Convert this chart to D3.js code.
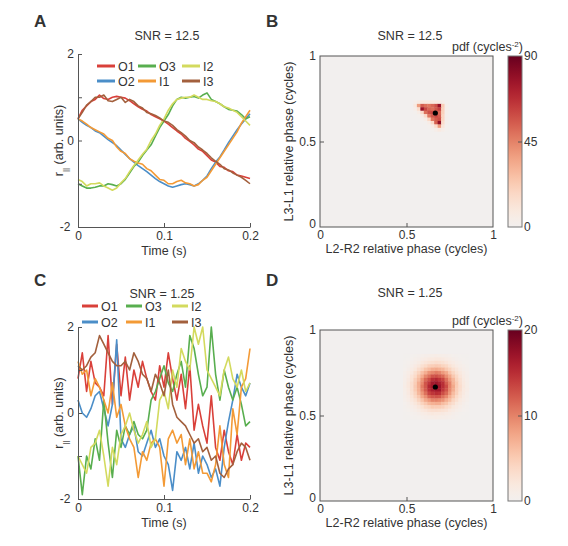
<!DOCTYPE html>
<html>
<head>
<meta charset="utf-8">
<script src="https://cdn.jsdelivr.net/npm/d3@7"></script>
<style>
  body { margin: 0; background: #fff; }
  svg text { font-family: "Liberation Sans", Arial, sans-serif; fill: #333; }
</style>
</head>
<body>
<div id="chart"></div>
<script>
// ---- data ----
const seriesNames = ["O1", "O2", "O3", "I1", "I2", "I3"];
const seriesColors = ["#d9403a", "#4b8ec8", "#58ae4f", "#f39a36", "#d3da5e", "#a3603d"];
const timeStep = 0.005; // 41 samples, 0 .. 0.2 s
const timeTicks = [0, 0.1, 0.2];
const rTicks = [-2, -1, 0, 1, 2];
const phaseTicks = [0, 0.5, 1];

// SNR = 12.5
const highSnr = [
  [0.5, 0.7, 0.8, 0.9, 0.95, 1.05, 0.97, 0.95, 1.0, 1.02, 1.0, 0.98, 0.92, 0.85, 0.78, 0.72, 0.68, 0.6, 0.55, 0.5, 0.45, 0.38, 0.3, 0.22, 0.15, 0.05, -0.02, -0.1, -0.2, -0.25, -0.35, -0.45, -0.5, -0.6, -0.62, -0.7, -0.72, -0.8, -0.82, -0.85, -0.88],
  [0.5, 0.42, 0.35, 0.3, 0.22, 0.18, 0.1, 0.02, -0.05, -0.12, -0.22, -0.32, -0.42, -0.5, -0.58, -0.65, -0.72, -0.8, -0.88, -0.95, -1.0, -1.05, -1.08, -1.05, -1.02, -1.0, -1.02, -1.05, -1.0, -0.92, -0.82, -0.65, -0.5, -0.38, -0.22, -0.05, 0.1, 0.25, 0.38, 0.5, 0.62],
  [-1.0, -1.05, -1.1, -1.1, -1.08, -1.05, -1.05, -1.0, -1.02, -1.05, -1.0, -0.9, -0.75, -0.6, -0.5, -0.35, -0.22, -0.1, 0.1, 0.3, 0.45, 0.6, 0.8, 0.95, 1.0, 0.98, 1.0, 1.02, 0.98, 1.05, 1.1, 0.95, 0.9, 0.85, 0.78, 0.72, 0.7, 0.68, 0.6, 0.5, 0.55],
  [0.5, 0.45, 0.38, 0.3, 0.25, 0.2, 0.15, 0.05, 0.0, -0.15, -0.25, -0.3, -0.42, -0.48, -0.52, -0.55, -0.65, -0.7, -0.8, -0.9, -0.92, -1.0, -1.0, -0.95, -0.92, -0.98, -1.0, -1.05, -1.02, -0.92, -0.85, -0.7, -0.55, -0.4, -0.25, -0.1, 0.05, 0.2, 0.4, 0.55, 0.7],
  [-0.9, -0.95, -1.05, -1.0, -1.0, -0.98, -1.05, -1.1, -1.15, -1.1, -0.98, -0.88, -0.72, -0.58, -0.45, -0.32, -0.2, 0.0, 0.15, 0.35, 0.5, 0.7, 0.85, 0.95, 0.98, 1.0, 1.0, 1.05, 1.0, 0.95, 0.95, 0.92, 0.9, 0.85, 0.78, 0.75, 0.7, 0.65, 0.55, 0.45, 0.35],
  [0.5, 0.65, 0.82, 0.9, 1.0, 1.0, 1.05, 0.92, 0.9, 0.95, 1.0, 0.88, 0.95, 0.9, 0.8, 0.75, 0.65, 0.62, 0.58, 0.52, 0.45, 0.42, 0.35, 0.25, 0.18, 0.1, 0.0, -0.05, -0.15, -0.22, -0.3, -0.4, -0.48, -0.55, -0.65, -0.68, -0.75, -0.8, -0.85, -0.92, -1.0]
];

// SNR = 1.25
const lowSnr = [
  [0.8, 1.4, 0.5, 1.2, 0.7, 0.6, 0.4, 1.8, 0.2, 1.6, 0.4, 1.3, 0.3, 1.0, 0.6, 1.2, 0.8, 0.5, 0.3, 1.1, 0.6, 1.4, 0.8, 0.3, 0.9, 0.1, 1.1, -0.4, 0.2, -0.3, -0.7, 0.4, -0.8, -1.1, -0.4, -0.9, -1.2, -0.5, -1.1, -0.7, -0.8],
  [0.3, 0.0, -0.1, 0.1, 0.4, 0.5, 0.1, -0.3, 0.2, 1.7, -0.6, -0.8, -0.5, -0.3, -0.9, -1.0, -0.7, -0.4, -0.8, -0.6, -1.0, -1.2, -1.8, -0.9, -1.1, -0.8, -1.3, -0.7, -1.4, -1.0, -1.2, -1.5, -1.3, -1.7, -0.8, -0.2, 0.3, 0.9, 0.6, 0.4, 0.7],
  [-1.0, -1.9, -1.0, -1.3, -0.6, -1.1, 0.3, -0.7, -1.5, -0.4, -0.8, -0.3, -0.5, -0.2, -0.5, -0.6, -0.4, 0.3, 0.5, 0.8, 1.1, 0.7, 0.5, 0.9, 1.2, 0.6, 1.8, 1.5, 0.9, 0.4, 0.6, 2.0, 0.9, 0.3, 1.0, 0.6, 0.3, 0.6, 0.2, -0.3, -0.2],
  [1.2, 0.9, 1.0, 0.4, 0.8, 0.6, 0.3, 0.0, 0.7, -0.1, 0.2, -0.3, -0.6, -0.8, -1.5, -0.9, -1.1, -0.7, -0.6, -0.8, -1.7, -0.6, -0.4, -0.7, -0.5, -1.2, -0.6, -1.3, -0.9, -1.4, -1.4, -1.6, -1.2, -0.3, -1.2, -1.5, 0.1, -0.5, 0.6, 0.8, 1.5],
  [-1.0, -1.2, -1.4, -0.8, -0.7, -0.4, -1.0, -1.7, -0.8, -1.2, -0.5, -0.3, 0.0, -0.4, -0.7, -0.5, -0.2, -0.8, -0.6, 0.3, 0.5, 0.1, 1.0, 0.6, 1.5, 1.2, 1.0, 2.0, 1.6, 2.0, 1.0, 0.8, 0.6, 0.4, 1.0, 1.3, 0.8, 0.6, 1.0, 0.5, 0.7],
  [1.1, 1.0, 1.1, 1.3, 1.4, 1.8, 1.6, 1.4, 1.2, 1.1, 1.1, 1.2, 1.0, 1.4, 1.2, 0.9, 0.8, 0.5, 0.9, 0.7, 0.4, 1.0, 0.2, -0.1, -0.2, -0.3, -0.5, -0.7, -0.6, -0.9, -0.8, -1.1, -1.0, -1.4, -1.5, -1.3, -1.2, -0.9, -0.7, -0.8, -1.1]
];

// phase histograms, 50 x 50 bins of 0.02 cycles; only the non-empty block is given
const binWidth = 0.02;
const heatHighStart = [27, 36];   // [first x bin, top y bin]
const heatHigh = [
  [3, 6, 8, 8, 8, 8, 8, 7, 4, 1],
  [8, 38, 55, 50, 48, 52, 58, 78, 22, 3],
  [4, 15, 78, 60, 52, 50, 56, 62, 20, 3],
  [1, 5, 16, 50, 58, 60, 55, 52, 20, 3],
  [0, 1, 5, 16, 48, 56, 60, 55, 18, 2],
  [0, 0, 1, 5, 18, 48, 55, 58, 18, 2],
  [0, 0, 0, 1, 5, 16, 54, 80, 15, 2],
  [0, 0, 0, 0, 1, 5, 15, 38, 10, 1],
  [0, 0, 0, 0, 0, 1, 4, 8, 4, 1]
];
const heatLowStart = [24, 42];
const heatLow = [
  [0.1, 0.1, 0.2, 0.3, 0.5, 0.6, 0.8, 0.9, 1.0, 1.1, 1.0, 0.9, 0.8, 0.6, 0.4, 0.3, 0.2, 0.1, 0.1],
  [0.1, 0.2, 0.4, 0.6, 0.8, 1.1, 1.4, 1.7, 1.8, 1.9, 1.9, 1.7, 1.4, 1.1, 0.8, 0.5, 0.3, 0.2, 0.1],
  [0.2, 0.4, 0.6, 0.9, 1.3, 1.9, 2.4, 2.8, 3.0, 3.3, 3.1, 2.9, 2.3, 1.8, 1.4, 0.9, 0.6, 0.3, 0.2],
  [0.3, 0.5, 0.9, 1.5, 2.1, 3.0, 3.6, 4.5, 4.8, 5.1, 4.9, 4.3, 3.8, 2.8, 2.0, 1.4, 0.9, 0.6, 0.3],
  [0.4, 0.8, 1.4, 2.0, 3.2, 4.1, 5.5, 6.3, 7.2, 7.5, 7.0, 6.5, 5.2, 4.3, 3.0, 2.2, 1.3, 0.8, 0.5],
  [0.6, 1.1, 1.8, 3.0, 4.3, 5.9, 7.2, 8.9, 9.6, 10.3, 9.8, 8.6, 7.5, 5.6, 4.1, 2.8, 1.9, 1.1, 0.6],
  [0.8, 1.4, 2.5, 3.6, 5.5, 7.3, 9.6, 11.0, 12.6, 12.9, 12.2, 11.4, 9.2, 7.5, 5.3, 3.8, 2.3, 1.4, 0.8],
  [0.9, 1.7, 2.7, 4.5, 6.2, 8.9, 11.4, 13.0, 14.9, 15.4, 14.5, 13.5, 11.0, 8.6, 6.6, 4.3, 2.9, 1.6, 0.9],
  [1.0, 1.9, 3.2, 4.8, 7.3, 9.5, 12.6, 14.4, 16.5, 17.0, 16.1, 14.9, 12.1, 9.9, 6.9, 5.0, 3.0, 1.8, 1.0],
  [1.1, 1.9, 3.1, 5.1, 7.2, 10.3, 12.5, 15.4, 16.6, 17.8, 17.0, 15.0, 13.1, 9.8, 7.6, 4.9, 3.3, 1.9, 1.0],
  [1.0, 1.8, 3.1, 5.0, 7.0, 9.8, 12.2, 14.9, 16.2, 16.7, 16.8, 14.4, 12.6, 9.5, 7.2, 4.7, 3.2, 1.8, 1.1],
  [0.9, 1.7, 2.9, 4.3, 6.5, 8.7, 11.0, 13.5, 14.5, 15.1, 14.8, 13.0, 11.4, 8.8, 6.2, 4.5, 2.7, 1.7, 0.9],
  [0.8, 1.4, 2.4, 3.8, 5.3, 7.6, 9.2, 11.5, 12.4, 12.7, 12.5, 11.0, 9.5, 7.2, 5.5, 3.6, 2.4, 1.4, 0.8],
  [0.6, 1.1, 1.9, 2.8, 4.3, 5.7, 7.5, 8.6, 9.9, 10.0, 9.5, 8.9, 7.2, 6.0, 4.1, 3.0, 1.8, 1.1, 0.6],
  [0.4, 0.8, 1.4, 2.1, 3.0, 4.3, 5.3, 6.5, 7.0, 7.3, 7.2, 6.2, 5.5, 4.1, 3.2, 2.0, 1.3, 0.8, 0.4],
  [0.3, 0.6, 0.9, 1.4, 2.1, 2.8, 3.8, 4.3, 5.0, 4.9, 4.8, 4.5, 3.6, 3.0, 2.0, 1.5, 0.9, 0.5, 0.3],
  [0.2, 0.4, 0.6, 0.9, 1.3, 1.9, 2.3, 2.9, 3.1, 3.2, 3.0, 2.8, 2.5, 1.8, 1.3, 0.9, 0.6, 0.4, 0.2],
  [0.1, 0.2, 0.4, 0.5, 0.8, 1.1, 1.4, 1.7, 1.9, 1.8, 1.8, 1.7, 1.4, 1.1, 0.8, 0.5, 0.3, 0.2, 0.1],
  [0.1, 0.1, 0.2, 0.3, 0.4, 0.6, 0.8, 0.9, 1.0, 1.1, 1.0, 0.9, 0.8, 0.6, 0.5, 0.3, 0.2, 0.1, 0.1]
];
const expectedPhase = [2 / 3, 2 / 3];

// ---- drawing ----
const svg = d3.select("#chart").append("svg")
  .attr("width", 568).attr("height", 546)
  .style("display", "block");

const axisColor = "#555";

function styleAxis(g) {
  g.select(".domain").attr("stroke", axisColor);
  g.selectAll(".tick line").attr("stroke", axisColor);
  g.selectAll(".tick text").style("font-size", "12px").attr("fill", "#333");
}

function panelLetter(x, y, s) {
  svg.append("text").attr("x", x).attr("y", y)
    .style("font-size", "17px").style("font-weight", "bold").attr("fill", "#222")
    .text(s);
}

function drawLines(data, o) {
  const x = d3.scaleLinear().domain([0, 0.2]).range([o.left, o.right]);
  const y = d3.scaleLinear().domain([-2, 2]).range([o.bottom, o.top]);

  const line = d3.line()
    .x((d, i) => x(i * timeStep))
    .y(d => y(d));

  data.forEach((vals, k) => {
    svg.append("path")
      .attr("d", line(vals))
      .attr("fill", "none")
      .attr("stroke", seriesColors[k])
      .attr("stroke-width", 1.6)
      .attr("stroke-linejoin", "round");
  });

  const gx = svg.append("g").attr("transform", `translate(0,${o.bottom})`)
    .call(d3.axisBottom(x).tickValues(timeTicks).tickSizeInner(-4).tickSizeOuter(0).tickPadding(4)
      .tickFormat(d => d === 0 ? "0" : d3.format(".1f")(d)));
  styleAxis(gx);
  const gy = svg.append("g").attr("transform", `translate(${o.left},0)`)
    .call(d3.axisLeft(y).tickValues(rTicks).tickSizeInner(-4).tickSizeOuter(0).tickPadding(4)
      .tickFormat(d => d % 2 === 0 ? d : ""));
  styleAxis(gy);
  gy.selectAll(".tick text").filter(d => d === -2).attr("dx", "-0.3em");

  svg.append("text").attr("x", (o.left + o.right) / 2).attr("y", o.bottom + 28)
    .attr("text-anchor", "middle").style("font-size", "12.5px").text("Time (s)");

  const yl = svg.append("text")
    .attr("transform", `translate(${o.left - 15},${(o.top + o.bottom) / 2}) rotate(-90)`)
    .attr("text-anchor", "middle").style("font-size", "12.5px");
  yl.append("tspan").text("r");
  yl.append("tspan").attr("baseline-shift", "sub").style("font-size", "8px").text("||");
  yl.append("tspan").text(" (arb. units)");

  svg.append("text").attr("x", o.titleX).attr("y", o.titleY)
    .attr("text-anchor", "middle").style("font-size", "12.5px").text(o.title);

  // legend
  seriesNames.forEach((name, i) => {
    const col = Math.floor(i / 2), row = i % 2;
    const lx = o.legX[col], ly = o.legY[row];
    svg.append("line")
      .attr("x1", lx).attr("x2", lx + o.legLen)
      .attr("y1", ly).attr("y2", ly)
      .attr("stroke", seriesColors[i]).attr("stroke-width", 3);
    svg.append("text").attr("x", lx + o.legLen + 3).attr("y", ly + 4.5)
      .style("font-size", "12.5px").text(name);
  });
}

function drawHeat(values, start, maxV, ticksCb, o) {
  const x = d3.scaleLinear().domain([0, 1]).range([o.left, o.right]);
  const y = d3.scaleLinear().domain([0, 1]).range([o.bottom, o.top]);
  const color = v => d3.interpolateRdBu(0.5 - 0.5 * Math.min(v / maxV, 1));

  svg.append("rect")
    .attr("x", o.left).attr("y", o.top)
    .attr("width", o.right - o.left).attr("height", o.bottom - o.top)
    .attr("fill", color(0));

  const cells = [];
  values.forEach((row, r) => row.forEach((v, c) => {
    if (v > 0) cells.push({ bx: start[0] + c, by: start[1] - r, v });
  }));
  svg.append("g").selectAll("rect").data(cells).join("rect")
    .attr("x", d => x(d.bx * binWidth))
    .attr("y", d => y((d.by + 1) * binWidth))
    .attr("width", x(binWidth) - x(0) + 0.4)
    .attr("height", y(0) - y(binWidth) + 0.4)
    .attr("fill", d => color(d.v));

  svg.append("circle")
    .attr("cx", x(expectedPhase[0])).attr("cy", y(expectedPhase[1]))
    .attr("r", 2.6).attr("fill", "#000");

  svg.append("rect")
    .attr("x", o.left).attr("y", o.top)
    .attr("width", o.right - o.left).attr("height", o.bottom - o.top)
    .attr("fill", "none").attr("stroke", axisColor);

  const gx = svg.append("g").attr("transform", `translate(0,${o.bottom})`)
    .call(d3.axisBottom(x).tickValues(phaseTicks).tickSizeInner(-4).tickSizeOuter(0).tickPadding(3)
      .tickFormat(d3.format("")));
  styleAxis(gx);
  gx.select(".domain").remove();
  gx.selectAll(".tick line").filter(d => d !== 0.5).remove();
  const gy = svg.append("g").attr("transform", `translate(${o.left},0)`)
    .call(d3.axisLeft(y).tickValues(phaseTicks).tickSizeInner(-4).tickSizeOuter(0).tickPadding(4)
      .tickFormat(d3.format("")));
  styleAxis(gy);
  gy.select(".domain").remove();
  gy.selectAll(".tick line").filter(d => d !== 0.5).remove();
  gy.selectAll(".tick text").filter(d => d === 0).attr("dy", "0.05em");

  svg.append("text").attr("x", (o.left + o.right) / 2).attr("y", o.bottom + 26)
    .attr("text-anchor", "middle").style("font-size", "12.5px")
    .text("L2-R2 relative phase (cycles)");
  svg.append("text")
    .attr("transform", `translate(${o.left - 27},${(o.top + o.bottom) / 2}) rotate(-90)`)
    .attr("text-anchor", "middle").style("font-size", "12.5px")
    .text("L3-L1 relative phase (cycles)");

  svg.append("text").attr("x", o.titleX).attr("y", o.titleY)
    .attr("text-anchor", "middle").style("font-size", "12.5px").text(o.title);

  // colorbar
  const cb = { left: 508, right: 522 };
  const gradId = "grad" + maxV;
  const grad = svg.append("defs").append("linearGradient").attr("id", gradId)
    .attr("x1", 0).attr("y1", 1).attr("x2", 0).attr("y2", 0);
  d3.range(0, 1.0001, 0.05).forEach(t => {
    grad.append("stop").attr("offset", t).attr("stop-color", color(t * maxV));
  });
  svg.append("rect")
    .attr("x", cb.left).attr("y", o.top)
    .attr("width", cb.right - cb.left).attr("height", o.bottom - o.top)
    .attr("fill", `url(#${gradId})`).attr("stroke", "#777");
  const cScale = d3.scaleLinear().domain([0, maxV]).range([o.bottom, o.top]);
  const gc = svg.append("g").attr("transform", `translate(${cb.right},0)`)
    .call(d3.axisRight(cScale).tickValues(ticksCb).tickSizeInner(-4).tickSizeOuter(0).tickPadding(2));
  styleAxis(gc);
  gc.select(".domain").remove();
  gc.selectAll(".tick line").filter((d, i) => i !== 1).remove();

  const pl = svg.append("text").attr("x", cb.right + 1).attr("y", o.top - 5)
    .attr("text-anchor", "end").style("font-size", "12.5px");
  pl.append("tspan").text("pdf (cycles");
  pl.append("tspan").attr("baseline-shift", "super").style("font-size", "8px").text("-2");
  pl.append("tspan").text(")");
}

// A
panelLetter(34, 27, "A");
drawLines(highSnr, {
  left: 78, right: 250, top: 54, bottom: 227,
  title: "SNR = 12.5", titleX: 167, titleY: 40,
  legX: [97, 138, 182], legY: [66, 81], legLen: 18
});

// B
panelLetter(266, 27, "B");
drawHeat(heatHigh, heatHighStart, 90, [0, 45, 90], {
  left: 320, right: 493, top: 56, bottom: 227,
  title: "SNR = 12.5", titleX: 410, titleY: 40
});

// C
panelLetter(34, 286, "C");
drawLines(lowSnr, {
  left: 78, right: 250, top: 327, bottom: 499,
  title: "SNR = 1.25", titleX: 162, titleY: 298,
  legX: [82, 126, 172], legY: [306, 322], legLen: 16
});

// D
panelLetter(266, 286, "D");
drawHeat(heatLow, heatLowStart, 20, [0, 10, 20], {
  left: 320, right: 493, top: 330, bottom: 501,
  title: "SNR = 1.25", titleX: 410, titleY: 297
});
</script>
</body>
</html>
